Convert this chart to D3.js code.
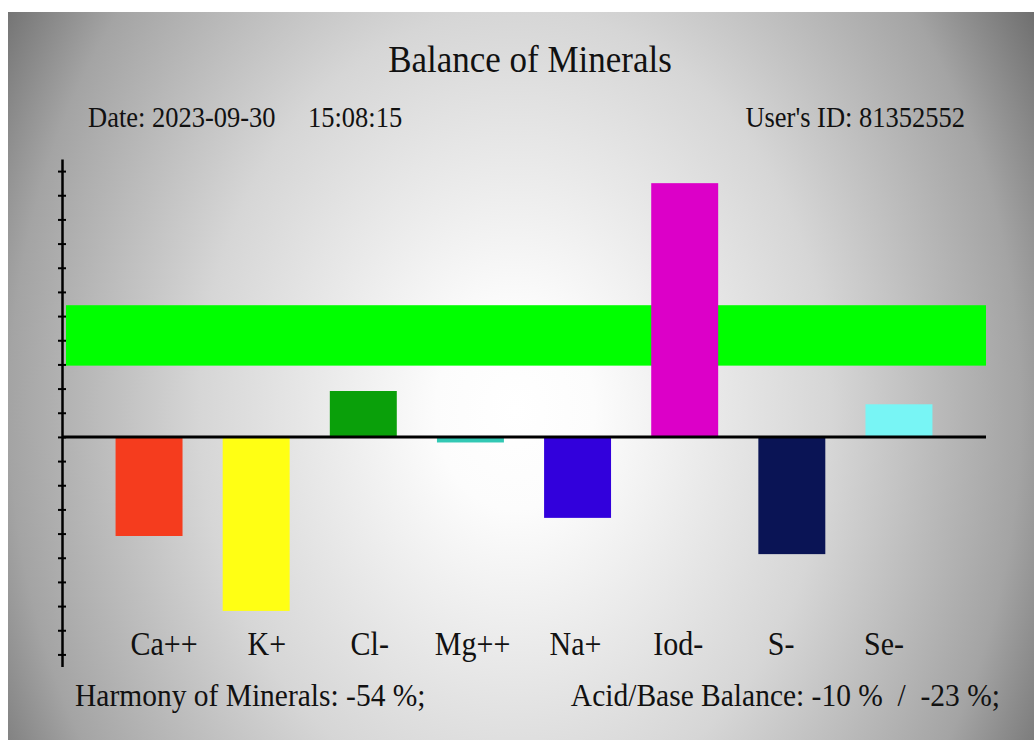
<!DOCTYPE html>
<html>
<head>
<meta charset="utf-8">
<title>Balance of Minerals</title>
<style>
    body {
        margin: 0;
        background: #fff;
    }
    svg text {
        font-family: "Liberation Serif", "Times New Roman", serif;
        fill: #111;
    }
    .axis path, .axis line {
        stroke: #000;
    }
</style>
<script src="https://d3js.org/d3.v7.min.js"></script>
</head>
<body>
<svg id="chart"></svg>
<script>
    // chart values
    const minerals = ['Ca++', 'K+', 'Cl-', 'Mg++', 'Na+', 'Iod-', 'S-', 'Se-'];
    const levels = [-41, -72, 19, -2.3, -33.5, 105, -48.5, 13.5];
    const barColors = ['#f53c1e', '#ffff14', '#0aa00a', '#32c8b4', '#3200dc', '#dc00c8', '#0a1455', '#78f5f5'];
    const normalRange = [29.5, 54.5];
    const tickValues = [-90, -80, -70, -60, -50, -40, -30, -20, -10, 0, 10, 20, 30, 40, 50, 60, 70, 80, 90, 100, 110];
    const measureDate = '2023-09-30';
    const measureTime = '15:08:15';
    const userId = '81352552';
    const harmony = -54;
    const acidBase = [-10, -23];

    const width = 1034,
        height = 740;
    const stretch = 1.1; // the original lettering is a bit taller than Liberation Serif

    const svg = d3.select('#chart')
        .attr('width', width)
        .attr('height', height);

    // background glow
    const defs = svg.append('defs');
    const grad = defs.append('radialGradient')
        .attr('id', 'bg')
        .attr('gradientUnits', 'userSpaceOnUse')
        .attr('cx', 0).attr('cy', 0).attr('r', 1)
        .attr('gradientTransform', 'translate(515,410) scale(790,1000)');
    [[0, '#ffffff'], [0.1, '#fcfcfc'], [0.4, '#d6d6d6'], [0.64, '#a4a4a4'], [0.8, '#626262'], [1, '#505050']]
        .forEach(s => grad.append('stop').attr('offset', s[0]).attr('stop-color', s[1]));

    svg.append('rect')
        .attr('x', 8).attr('y', 12)
        .attr('width', width - 8).attr('height', height - 12)
        .attr('fill', 'url(#bg)');

    const x = d3.scaleBand()
        .domain(minerals)
        .range([62, 986])
        .paddingInner(0.375)
        .paddingOuter(0.5);

    const labelX = d3.scalePoint()
        .domain(minerals)
        .range([164, 884]);

    const y = d3.scaleLinear()
        .domain([-95, 115])
        .range([666.5, 159]);

    // normal zone
    svg.append('rect')
        .attr('x', x.range()[0] + 4)
        .attr('width', x.range()[1] - x.range()[0] - 4)
        .attr('y', y(normalRange[1]))
        .attr('height', y(normalRange[0]) - y(normalRange[1]))
        .attr('fill', '#00ff00');

    svg.selectAll('rect.bar')
        .data(minerals)
        .join('rect')
        .attr('class', 'bar')
        .attr('x', d => x(d))
        .attr('width', x.bandwidth())
        .attr('y', (d, i) => y(Math.max(0, levels[i])))
        .attr('height', (d, i) => Math.abs(y(levels[i]) - y(0)))
        .attr('fill', (d, i) => barColors[i]);

    // zero line
    svg.append('line')
        .attr('x1', x.range()[0]).attr('x2', x.range()[1])
        .attr('y1', y(0)).attr('y2', y(0))
        .attr('stroke', '#000')
        .attr('stroke-width', 3);

    const axis = svg.append('g')
        .attr('class', 'axis')
        .attr('transform', `translate(${x.range()[0]},0)`)
        .call(d3.axisLeft(y).tickValues(tickValues).tickSizeOuter(0).tickFormat(''));
    axis.select('.domain').attr('stroke-width', 2.5);
    axis.selectAll('.tick line')
        .attr('x1', -4).attr('x2', 4)
        .attr('stroke-width', 2);
    axis.selectAll('.tick text').remove();

    function label(px, py, size, txt, anchor) {
        return svg.append('text')
            .attr('transform', `translate(${px},${py}) scale(1,${stretch})`)
            .attr('text-anchor', anchor || 'start')
            .style('font-size', size + 'px')
            .style('white-space', 'pre')
            .text(txt);
    }

    // category labels
    minerals.forEach(m => label(labelX(m), 655, 30, m, 'middle'));

    // titles
    label(530, 72, 35, 'Balance of Minerals', 'middle');
    label(88, 127, 26.5, 'Date: ' + measureDate);
    label(308, 127, 26.5, measureTime);
    label(965, 127, 26.5, "User's ID: " + userId, 'end');

    label(75, 706, 29.5, 'Harmony of Minerals: ' + harmony + ' %;');
    label(1000, 706, 29.5, 'Acid/Base Balance: ' + acidBase[0] + ' %  /  ' + acidBase[1] + ' %;', 'end');
</script>
</body>
</html>
